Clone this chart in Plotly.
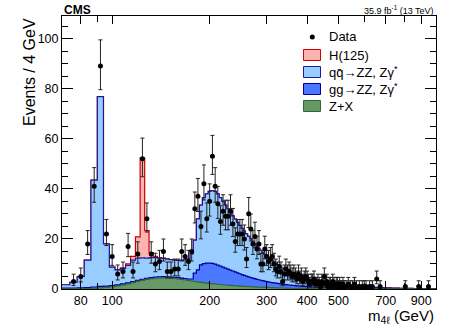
import math
import plotly.graph_objects as go

# 4 GeV bins starting at 70 GeV
bin_low_edge = 70
bin_width = 4

# Z+X (reducible background), events per bin
zx_bkg = [
    0.05, 0.08, 0.12, 0.2, 0.3, 0.45, 0.65, 0.9, 1.2, 1.6,
    2.0, 2.5, 3.0, 3.4, 3.8, 4.1, 4.3, 4.4, 4.45, 4.4,
    4.3, 4.2, 4.0, 3.8, 3.6, 3.4, 3.2, 3.0, 2.8, 2.65,
    2.5, 2.35, 2.2, 2.1, 2.0, 1.9, 1.8, 1.7, 1.6, 1.5,
    1.45, 1.38, 1.3, 1.24, 1.18, 1.12, 1.06, 1.0, 0.95, 0.9,
    0.86, 0.82, 0.78, 0.74, 0.7, 0.67, 0.64, 0.61, 0.58, 0.55,
    0.52, 0.5, 0.47, 0.45, 0.43, 0.41, 0.39, 0.37, 0.35, 0.33,
    0.32, 0.3, 0.29, 0.28, 0.26, 0.25, 0.24, 0.23, 0.22, 0.21,
    0.2, 0.19, 0.18, 0.17, 0.16, 0.16, 0.15, 0.14, 0.14, 0.13,
    0.12, 0.12, 0.11, 0.11, 0.1, 0.1, 0.09, 0.09, 0.09, 0.08,
    0.08, 0.07, 0.07, 0.07, 0.06, 0.06, 0.06, 0.06, 0.05, 0.05,
    0.05, 0.05, 0.05, 0.04, 0.04, 0.04, 0.04, 0.04, 0.04, 0.03,
    0.03, 0.03, 0.03, 0.03, 0.03, 0.03, 0.03, 0.03, 0.03, 0.03,
    0.03, 0.03, 0.03, 0.03, 0.02, 0.02, 0.02, 0.02, 0.02, 0.02,
    0.02, 0.02, 0.02, 0.02, 0.02, 0.02, 0.02, 0.02, 0.02, 0.02,
    0.02, 0.02, 0.02, 0.02, 0.02, 0.02, 0.02, 0.02, 0.02, 0.02,
    0.02, 0.02, 0.02, 0.02, 0.02, 0.02, 0.02, 0.02, 0.02, 0.02,
    0.01, 0.01, 0.01, 0.01, 0.01, 0.01, 0.01, 0.01, 0.01, 0.01,
    0.01, 0.01, 0.01, 0.01, 0.01, 0.01, 0.01, 0.01, 0.01, 0.01,
    0.01, 0.01, 0.01, 0.01, 0.01, 0.01, 0.01, 0.01, 0.01, 0.01,
    0.01, 0.01, 0.01, 0.01, 0.01, 0.01, 0.01, 0.01, 0.01, 0.01,
    0.01, 0.01, 0.01, 0.01, 0.01, 0.01, 0.01, 0.01, 0.01, 0.01,
    0.01, 0.01, 0.01, 0.01, 0.01, 0.01, 0.01, 0.01, 0.01, 0.01,
    0.01, 0.01,
]

# gg -> ZZ, Z gamma*
gg_zz = [
    0.3, 0.3, 0.35, 0.4, 0.5, 0.6, 0.5, 0.45, 0.45, 0.45,
    0.45, 0.5, 0.5, 0.5, 0.5, 0.5, 0.5, 0.5, 0.5, 0.5,
    0.5, 0.5, 0.55, 0.55, 0.6, 0.6, 0.8, 3.3, 4.8, 7.0,
    7.6, 8.0, 8.1, 8.1, 7.9, 7.6, 7.3, 7.0, 6.7, 6.4,
    6.1, 5.8, 5.5, 5.2, 4.9, 4.65, 4.4, 4.15, 3.9, 3.7,
    3.5, 3.3, 3.1, 2.95, 2.8, 2.65, 2.5, 2.38, 2.26, 2.15,
    2.05, 1.95, 1.86, 1.77, 1.69, 1.61, 1.54, 1.47, 1.4, 1.34,
    1.28, 1.22, 1.17, 1.12, 1.07, 1.02, 0.98, 0.94, 0.9, 0.86,
    0.82, 0.79, 0.76, 0.73, 0.7, 0.67, 0.64, 0.62, 0.6, 0.57,
    0.55, 0.53, 0.51, 0.49, 0.47, 0.45, 0.43, 0.42, 0.4, 0.39,
    0.37, 0.36, 0.35, 0.34, 0.32, 0.31, 0.3, 0.29, 0.28, 0.27,
    0.26, 0.25, 0.24, 0.23, 0.22, 0.22, 0.21, 0.2, 0.2, 0.19,
    0.18, 0.18, 0.17, 0.17, 0.16, 0.16, 0.15, 0.15, 0.14, 0.14,
    0.13, 0.13, 0.13, 0.12, 0.12, 0.12, 0.11, 0.11, 0.11, 0.1,
    0.1, 0.1, 0.1, 0.09, 0.09, 0.09, 0.09, 0.08, 0.08, 0.08,
    0.08, 0.08, 0.07, 0.07, 0.07, 0.07, 0.07, 0.06, 0.06, 0.06,
    0.06, 0.06, 0.06, 0.06, 0.05, 0.05, 0.05, 0.05, 0.05, 0.05,
    0.05, 0.05, 0.04, 0.04, 0.04, 0.04, 0.04, 0.04, 0.04, 0.04,
    0.04, 0.04, 0.04, 0.03, 0.03, 0.03, 0.03, 0.03, 0.03, 0.03,
    0.03, 0.03, 0.03, 0.03, 0.03, 0.03, 0.03, 0.03, 0.03, 0.03,
    0.03, 0.03, 0.03, 0.03, 0.03, 0.02, 0.02, 0.02, 0.02, 0.02,
    0.02, 0.02, 0.02, 0.02, 0.02, 0.02, 0.02, 0.02, 0.02, 0.02,
    0.02, 0.02, 0.02, 0.02, 0.02, 0.02, 0.02, 0.02, 0.02, 0.02,
    0.02, 0.02,
]

# qqbar -> ZZ, Z gamma*
qq_zz = [
    1.35, 2.32, 4.53, 10.9, 42.7, 75.75, 16.85, 7.35, 5.95, 6.05,
    6.95, 8.5, 8.8, 8.5, 8.0, 7.9, 7.7, 7.4, 7.25, 7.05,
    6.9, 6.8, 6.85, 7.05, 7.4, 8.0, 10.0, 13.2, 20.4, 23.85,
    26.4, 27.65, 28.7, 29.1, 29.1, 28.5, 27.4, 26.3, 25.2, 24.1,
    23.05, 22.0, 21.1, 20.15, 19.3, 18.45, 17.65, 16.85, 16.15, 15.4,
    14.65, 13.9, 13.2, 12.5, 11.9, 11.3, 10.65, 10.1, 9.55, 9.1,
    8.65, 8.15, 7.75, 7.4, 7.0, 6.7, 6.35, 6.05, 5.75, 5.5,
    5.3, 5.1, 4.85, 4.6, 4.4, 4.25, 4.05, 3.85, 3.7, 3.55,
    3.4, 3.2, 3.1, 3.0, 2.9, 2.75, 2.65, 2.55, 2.45, 2.4,
    2.33, 2.25, 2.18, 2.1, 2.03, 1.95, 1.9, 1.83, 1.77, 1.71,
    1.65, 1.6, 1.55, 1.5, 1.46, 1.42, 1.38, 1.34, 1.3, 1.26,
    1.22, 1.19, 1.16, 1.13, 1.1, 1.07, 1.04, 1.01, 0.98, 0.96,
    0.94, 0.91, 0.89, 0.87, 0.85, 0.83, 0.81, 0.79, 0.77, 0.75,
    0.73, 0.71, 0.7, 0.68, 0.66, 0.65, 0.63, 0.62, 0.6, 0.59,
    0.57, 0.56, 0.55, 0.53, 0.52, 0.51, 0.5, 0.49, 0.47, 0.46,
    0.45, 0.44, 0.43, 0.42, 0.41, 0.4, 0.39, 0.38, 0.37, 0.36,
    0.35, 0.35, 0.34, 0.33, 0.32, 0.32, 0.31, 0.3, 0.3, 0.29,
    0.28, 0.28, 0.27, 0.27, 0.26, 0.25, 0.25, 0.24, 0.24, 0.23,
    0.23, 0.22, 0.22, 0.21, 0.21, 0.2, 0.2, 0.2, 0.19, 0.19,
    0.18, 0.18, 0.18, 0.17, 0.17, 0.16, 0.16, 0.16, 0.15, 0.15,
    0.15, 0.14, 0.14, 0.14, 0.13, 0.13, 0.13, 0.13, 0.12, 0.12,
    0.12, 0.12, 0.11, 0.11, 0.11, 0.11, 0.1, 0.1, 0.1, 0.1,
    0.1, 0.09, 0.09, 0.09, 0.09, 0.09, 0.08, 0.08, 0.08, 0.08,
    0.08, 0.08,
]

# H(125) signal, only non-negligible in bins 98..150 GeV
h125_first_low = 98
h125 = [0.05, 0.1, 0.3, 0.6, 1.5, 8.5, 40.0, 11.0, 2.0, 0.5, 0.2, 0.1, 0.05]

# observed data: bin centre (GeV) and event count
data_mass = [
    76, 80, 84, 88, 92, 96, 100, 104, 108, 112, 116, 120, 124, 128, 132, 136,
    140, 144, 148, 152, 156, 160, 164, 168, 172, 176, 180, 184, 188, 192, 196,
    200, 204, 208, 212, 216, 220, 224, 228, 232, 236, 240, 244, 248, 252, 256,
    260, 264, 268, 272, 276, 280, 284, 288, 292, 296, 300, 304, 308, 312, 316,
    320, 324, 328, 332, 336, 340, 344, 348, 352, 356, 360, 364, 368, 372, 376,
    380, 384, 388, 392, 396, 400, 404, 408, 412, 416, 420, 424, 428, 432, 436,
    440, 444, 448, 452, 456, 460, 464, 468, 472, 476, 480, 484, 488, 492, 496,
    500, 504, 508, 512, 516, 520, 528, 536, 544, 552, 560, 568, 580, 592, 600,
    608, 624, 636, 656, 672, 804, 884, 948,
]
data_counts = [
    3, 5, 18, 41, 89, 22, 13, 6, 7, 17, 7, 14, 52, 28, 14, 10,
    11, 15, 7, 7, 8, 8, 15, 13, 11, 15, 32, 37, 25, 42, 28,
    35, 53, 41, 34, 27, 31, 29, 29, 31, 26, 19, 22, 22, 22, 20,
    12, 30, 24, 18, 21, 16, 18, 10, 10, 16, 13, 11, 12, 13, 10,
    8, 7, 9, 7, 3, 6, 8, 6, 7, 6, 5, 6, 5, 4, 6,
    4, 5, 3, 4, 5, 4, 3, 2, 3, 3, 4, 2, 2, 3, 2,
    1, 3, 2, 5, 2, 3, 1, 2, 2, 1, 3, 2, 1, 2, 2,
    1, 2, 1, 1, 2, 1, 1, 2, 1, 1, 2, 1, 1, 1, 1,
    1, 1, 1, 4, 1, 1, 1, 1,
]

x_tick_vals = [80, 100, 200, 300, 400, 500, 700, 900]
x_minor_vals = [70, 90, 600, 800, 1000]

legend_names = ["Data", "H(125)", "qq\u0304\u2192ZZ, Z\u03b3<sup>*</sup>",
                "gg\u2192ZZ, Z\u03b3<sup>*</sup>", "Z+X"]
fill_colors = ["#ffb2b2", "#99ccff", "#4b78ff", "#669966"]
line_colors = ["#cc0000", "#1a1a99", "#000099", "#336633"]


def poisson_cdf(k, mu):
    if k < 0:
        return 0.0
    return sum(math.exp(-mu + i * math.log(mu) - math.lgamma(i + 1)) for i in range(k + 1))


def garwood(n, q=0.158655):
    if n == 0:
        lo = 0.0
    else:
        a, b = 1e-9, float(n)
        for _ in range(80):
            m = 0.5 * (a + b)
            if 1 - poisson_cdf(n - 1, m) < q:
                a = m
            else:
                b = m
        lo = 0.5 * (a + b)
    a, b = float(n), n + 10 * math.sqrt(n + 1) + 10
    for _ in range(80):
        m = 0.5 * (a + b)
        if poisson_cdf(n, m) > q:
            a = m
        else:
            b = m
    hi = 0.5 * (a + b)
    return n - lo, hi - n


W, H = 455, 332
ML, MR, MT, MB = 62, 19, 16, 43
PW, PH = W - ML - MR, H - MT - MB


def px(x):
    return (x - ML) / PW


def py(y):
    return (H - MB - y) / PH


nbins = len(qq_zz)
edges = [bin_low_edge + bin_width * i for i in range(nbins + 1)]
h_full = [0.0] * nbins
start = (h125_first_low - bin_low_edge) // bin_width
for i, v in enumerate(h125):
    h_full[start + i] = v

lay_zx = list(zx_bkg)
lay_gg = [a + b for a, b in zip(lay_zx, gg_zz)]
lay_qq = [a + b for a, b in zip(lay_gg, qq_zz)]
lay_h = [a + b for a, b in zip(lay_qq, h_full)]

fig = go.Figure()

for vals, fc, lc in zip([lay_h, lay_qq, lay_gg, lay_zx], fill_colors, line_colors):
    fig.add_trace(go.Scatter(
        x=edges, y=list(vals) + [vals[-1]], mode="lines",
        line=dict(shape="hv", color=lc, width=1.2),
        fill="tozeroy", fillcolor=fc, showlegend=False, hoverinfo="skip"))

errs = [garwood(n) for n in data_counts]
fig.add_trace(go.Scatter(
    x=data_mass, y=data_counts, mode="markers", name="Data", showlegend=False,
    marker=dict(color="black", size=5),
    error_y=dict(type="data", symmetric=False,
                 array=[e[1] for e in errs], arrayminus=[e[0] for e in errs],
                 color="#222222", thickness=1, width=2),
))

# hand-placed legend (ROOT style, tight rows)
row_y = [37, 55, 72, 89, 106]
shapes = [dict(type="circle", xref="paper", yref="paper",
               x0=px(309.8), x1=px(314.8), y0=py(row_y[0] + 2.5), y1=py(row_y[0] - 2.5),
               fillcolor="black", line=dict(color="black", width=0))]
for i, (fc, lc) in enumerate(zip(fill_colors, line_colors)):
    yc = row_y[i + 1]
    shapes.append(dict(type="rect", xref="paper", yref="paper",
                       x0=px(303.5), x1=px(320.5), y0=py(yc + 5.5), y1=py(yc - 5.5),
                       fillcolor=fc, line=dict(color=lc, width=1)))

annotations = [
    dict(text="<b>CMS</b>", xref="paper", yref="paper", x=0, y=py(10),
         xanchor="left", yanchor="middle", showarrow=False, font=dict(size=12)),
    dict(text="35.9 fb<sup>-1</sup> (13 TeV)", xref="paper", yref="paper", x=1, y=py(10),
         xanchor="right", yanchor="middle", showarrow=False, font=dict(size=9)),
    dict(text="Events / 4 GeV", xref="paper", yref="paper", x=px(29), y=1.0,
         xanchor="center", yanchor="top", textangle=-90, showarrow=False,
         font=dict(size=16)),
    dict(text="m<sub>4\u2113</sub> (GeV)", xref="paper", yref="paper", x=1, y=py(316),
         xanchor="right", yanchor="middle", showarrow=False, font=dict(size=15)),
]
for name, yc in zip(legend_names, row_y):
    annotations.append(dict(text=name, xref="paper", yref="paper", x=px(327), y=py(yc),
                            xanchor="left", yanchor="middle", showarrow=False,
                            font=dict(size=13)))

fig.update_layout(
    width=W, height=H,
    margin=dict(l=ML, r=MR, t=MT, b=MB),
    plot_bgcolor="white", paper_bgcolor="white",
    font=dict(family="Liberation Sans, Arial, sans-serif", size=12.5, color="black"),
    showlegend=False,
    xaxis=dict(type="log", range=[math.log10(70), math.log10(1000)],
               tickvals=x_tick_vals, ticktext=[str(v) for v in x_tick_vals],
               ticks="inside", ticklen=8, tickcolor="black",
               minor=dict(tickvals=x_minor_vals, ticks="inside", ticklen=6, tickcolor="black"),
               showline=True, linecolor="black", linewidth=1, mirror="allticks",
               showgrid=False, zeroline=False),
    yaxis=dict(range=[0, 109], tick0=0, dtick=20,
               ticks="inside", ticklen=11, tickcolor="black",
               minor=dict(dtick=5, ticklen=6, ticks="inside", tickcolor="black"),
               showline=True, linecolor="black", linewidth=1, mirror="allticks",
               showgrid=False, zeroline=False),
    shapes=shapes,
    annotations=annotations,
)

fig.write_html("out.html", config={"displayModeBar": False},
               post_script="document.body.style.margin='0';")
